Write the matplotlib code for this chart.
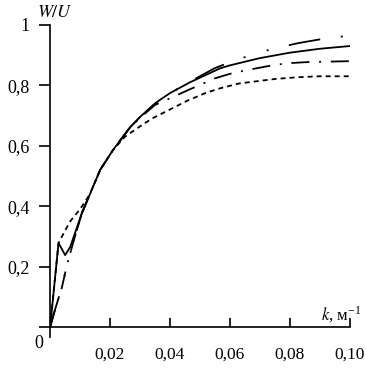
import numpy as np
import matplotlib
matplotlib.use("Agg")
import matplotlib.pyplot as plt

plt.rcParams['font.family'] = ['Liberation Serif', 'DejaVu Serif']
plt.rcParams['lines.scale_dashes'] = False

# solid curve
k_a = [0, 0.0028, 0.005, 0.0067, 0.0106, 0.0133, 0.0167, 0.021, 0.0267, 0.03,
       0.0344, 0.0367, 0.04, 0.0467, 0.0567, 0.06, 0.07, 0.08, 0.09, 0.10]
w_a = [0, 0.278, 0.238, 0.265, 0.377, 0.44, 0.52, 0.586, 0.661, 0.695,
       0.735, 0.752, 0.774, 0.81, 0.856, 0.866, 0.89, 0.908, 0.921, 0.93]

# long dash - dot - dot curve (top)
k_b = [0, 0.0017, 0.0039, 0.0056, 0.008, 0.0106, 0.0133, 0.0167, 0.021, 0.0267,
       0.03, 0.0344, 0.0367, 0.04, 0.0467, 0.055, 0.06, 0.067, 0.074, 0.083, 0.09, 0.10]
w_b = [0, 0.06, 0.13, 0.205, 0.29, 0.377, 0.44, 0.52, 0.586, 0.661,
       0.695, 0.735, 0.752, 0.774, 0.812, 0.857, 0.876, 0.90, 0.92, 0.94, 0.952, 0.965]

# dash - dot curve (middle)
k_c = [0, 0.0017, 0.0039, 0.0056, 0.008, 0.0106, 0.0133, 0.0167, 0.021, 0.0267,
       0.03, 0.035, 0.04, 0.0467, 0.055, 0.06, 0.066, 0.073, 0.079, 0.086, 0.10]
w_c = [0, 0.06, 0.13, 0.205, 0.29, 0.377, 0.44, 0.52, 0.586, 0.661,
       0.692, 0.735, 0.757, 0.787, 0.823, 0.838, 0.851, 0.864, 0.873, 0.877, 0.88]

# short dashed curve (bottom)
k_d = [0, 0.0028, 0.0045, 0.0067, 0.01, 0.0133, 0.0167, 0.021, 0.025, 0.03,
       0.034, 0.04, 0.046, 0.052, 0.0567, 0.063, 0.075, 0.083, 0.09, 0.10]
w_d = [0, 0.278, 0.31, 0.35, 0.39, 0.44, 0.52, 0.586, 0.63, 0.664,
       0.69, 0.72, 0.75, 0.775, 0.79, 0.806, 0.821, 0.827, 0.83, 0.83]

xticks = [0.02, 0.04, 0.06, 0.08, 0.10]
xlabels = ['0,02', '0,04', '0,06', '0,08', '0,10']
yticks = [0, 0.2, 0.4, 0.6, 0.8, 1.0]
ylabels = ['', '0,2', '0,4', '0,6', '0,8', '1']

fig = plt.figure(figsize=(3.66, 3.72), dpi=100)
ax = fig.add_axes([0.137, 0.121, 0.818, 0.812])

lw = 1.3
ax.plot(k_d, w_d, color='k', lw=lw, dashes=(3.6, 2.9))
ax.plot(k_c, w_c, color='k', lw=lw, dashes=(13, 7, 1.4, 7))
ax.plot(k_b, w_b, color='k', lw=lw, dashes=(23, 15, 1.4, 16, 1.4, 15))
ax.plot(k_a, w_a, color='k', lw=lw)

ax.set_xlim(0, 0.1)
ax.set_ylim(0, 1)
for s in ['top', 'right']:
    ax.spines[s].set_visible(False)
for s in ['left', 'bottom']:
    ax.spines[s].set_linewidth(1.2)

ax.set_xticks(xticks)
ax.set_xticklabels(xlabels)
ax.set_yticks(yticks)
ax.set_yticklabels(ylabels)
ax.tick_params(axis='x', direction='in', length=6.5, width=1.2, pad=14, labelsize=12.5)
ax.tick_params(axis='y', direction='out', length=8, width=1.2, pad=7, labelsize=13)

# small downward extension of the y axis below zero
ax.plot([0, 0], [-0.033, 0], color='k', lw=1.2, clip_on=False)

ax.text(-0.0037, -0.055, '0', fontsize=13, ha='center', va='center')
ax.text(-0.0045, 1.04, '$\\mathit{W/U}$', fontsize=13, ha='left', va='center',
        math_fontfamily='stix')
ax.text(0.0905, 0.04, '$\\mathit{k}$, м$^{\\mathregular{-1}}$', fontsize=12,
        ha='left', va='center', math_fontfamily='stix')

fig.savefig('out.png', dpi=100)
